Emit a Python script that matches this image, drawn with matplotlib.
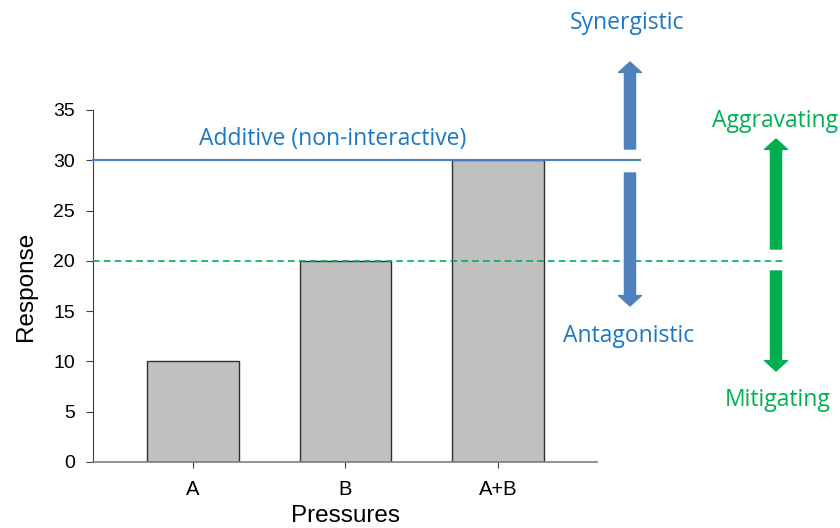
import matplotlib
matplotlib.use("Agg")
import matplotlib.pyplot as plt

categories = ["A", "B", "A+B"]
responses = [10, 20, 30]
additive_level = 30
reference_level = 20
yticks = [0, 5, 10, 15, 20, 25, 30, 35]

BLUE_LINE = "#4A7EBB"
BLUE_ARROW = "#4F81BD"
BLUE_TEXT = "#1C78C4"
GREEN = "#00B050"

plt.rcParams["font.family"] = ["Liberation Sans", "DejaVu Sans"]
fig = plt.figure(figsize=(8.4, 5.28), dpi=100)
L, R, B, T = 93/840, 597/840, 1-462/528, 1-110/528
ax = fig.add_axes([L, B, R-L, T-B])

x = list(range(len(categories)))
ax.bar(x, responses, width=0.6, color="#C0C0C0", edgecolor="#303030", linewidth=1.0, zorder=2)
ax.set_xlim(-0.656, 2.65)
ax.set_ylim(0, 35)
ax.set_yticks(yticks)
ax.set_xticks(x)
ax.set_xticklabels(categories, fontsize=14.5)
ax.tick_params(axis="y", labelsize=14, direction="out", length=5, color="#404040", pad=8)
ax.tick_params(axis="x", direction="out", length=4, color="#404040", pad=9)
for s in ["top", "right"]:
    ax.spines[s].set_visible(False)
ax.spines["left"].set_color("#404040")
ax.spines["bottom"].set_color("#808080")
ax.spines["bottom"].set_linewidth(1.2)
ax.set_ylabel("Response", fontsize=17.5, labelpad=12)
ax.set_xlabel("Pressures", fontsize=17.5, labelpad=4)


def px_x(px):
    x0, x1 = ax.get_xlim()
    return x0 + (px - 93) / (597 - 93) * (x1 - x0)


def px_y(py):
    return (462 - py) / (462 - 110) * 35


ax.plot([-0.656, px_x(640)], [additive_level] * 2, color=BLUE_LINE, lw=1.5, clip_on=False, zorder=3)
ax.plot([-0.656, px_x(783)], [reference_level] * 2, color=GREEN, lw=1.2, ls=(0, (4, 2.5)),
        clip_on=False, zorder=3)

tf = ["Open Sans", "DejaVu Sans"]
fs = 16.5
ax.text(px_x(333), px_y(139), "Additive (non-interactive)", color=BLUE_TEXT, fontsize=fs, family=tf,
        ha="center", va="center")


def arrow(xp, tail_py, tip_py, color):
    ax.annotate("", xy=(px_x(xp), px_y(tip_py)), xytext=(px_x(xp), px_y(tail_py)),
                xycoords="data", textcoords="data", annotation_clip=False,
                arrowprops=dict(arrowstyle="simple,head_width=1.65,head_length=0.75,tail_width=0.8",
                                color=color, shrinkA=0, shrinkB=0, mutation_scale=10))


arrow(630, 149, 62, BLUE_ARROW)
arrow(630, 173, 306, BLUE_ARROW)
arrow(776, 249, 139, GREEN)
arrow(776, 271, 371, GREEN)

ax.text(px_x(627), px_y(23), "Synergistic", color=BLUE_TEXT, fontsize=fs, family=tf,
        ha="center", va="center", clip_on=False)
ax.text(px_x(629), px_y(336), "Antagonistic", color=BLUE_TEXT, fontsize=fs, family=tf,
        ha="center", va="center", clip_on=False)
ax.text(px_x(775), px_y(121), "Aggravating", color=GREEN, fontsize=fs, family=tf,
        ha="center", va="center", clip_on=False)
ax.text(px_x(778), px_y(400), "Mitigating", color=GREEN, fontsize=fs, family=tf,
        ha="center", va="center", clip_on=False)

fig.savefig("out.png", dpi=100)
